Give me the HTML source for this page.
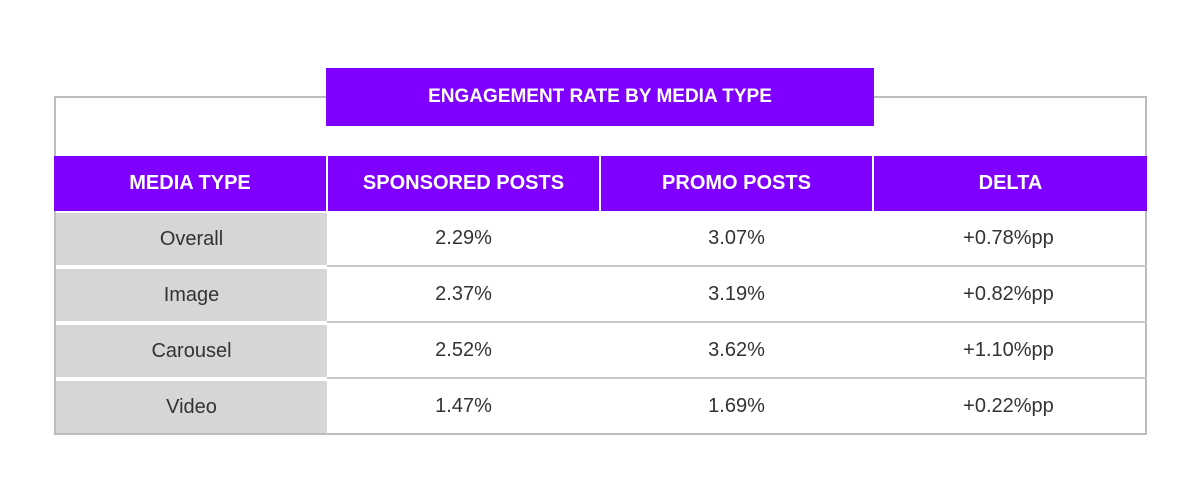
<!DOCTYPE html>
<html><head><meta charset="utf-8"><style>
body{margin:0;width:1200px;height:504px;background:#fff;position:relative;overflow:hidden;font-family:"Liberation Sans",sans-serif}
.a{position:absolute;box-sizing:border-box;display:flex;align-items:center;justify-content:center}
.h{background:#8000ff;color:#fff;font-weight:bold;font-size:20px}
.c{font-size:20px;color:#333}
.g{background:#d6d6d6}
</style></head><body>
<div class="a" style="left:54px;top:96px;width:1093px;height:339px;border:2px solid #bdbdbd"></div>
<div class="a h" style="left:326px;top:68px;width:548px;height:58px;font-size:19px">ENGAGEMENT RATE BY MEDIA TYPE</div>
<div id="t"></div>
<script>
const headers=["MEDIA TYPE","SPONSORED POSTS","PROMO POSTS","DELTA"];
const types=["Overall","Image","Carousel","Video"];
const sponsored=["2.29%","2.37%","2.52%","1.47%"];
const promo=["3.07%","3.19%","3.62%","1.69%"];
const delta=["+0.78%pp","+0.82%pp","+1.10%pp","+0.22%pp"];
const cx=[54,327,600,873,1146];
const t=document.getElementById('t');
function cell(x,y,w,h,cls,txt,name){
 const d=document.createElement('div');
 d.className='a '+cls;
 d.style.cssText=`left:${x}px;top:${y}px;width:${w}px;height:${h}px`;
 d.textContent=txt;
 
 
 t.appendChild(d);
}
headers.forEach((hd,i)=>{
 const x=cx[i]+(i?1:0), w=cx[i+1]-cx[i]-(i?1:0)-(i<3?1:0);
 cell(x,156,w+(i==3?1:0),55,'h',hd,'column-header');
});
const cols=[types,sponsored,promo,delta];
types.forEach((_,r)=>{
 const y=211+r*56;
 // separator
 const s=document.createElement('div');
 s.className='a';
 s.style.cssText=`left:${327}px;top:${y+54}px;width:820px;height:2px;background:#c8c8c8`;
 
 
 if(r<3)t.appendChild(s);
 cols.forEach((col,i)=>{
  const x=cx[i]+(i?0:2), w=cx[i+1]-cx[i]-(i?0:2)-(i==3?2:0);
  cell(x,y+(i?0:2),w,i?54:52,i?'c':'c g',col[r],i?'value-cell':'media-type-cell');
 });
});
</script>
</body></html>
